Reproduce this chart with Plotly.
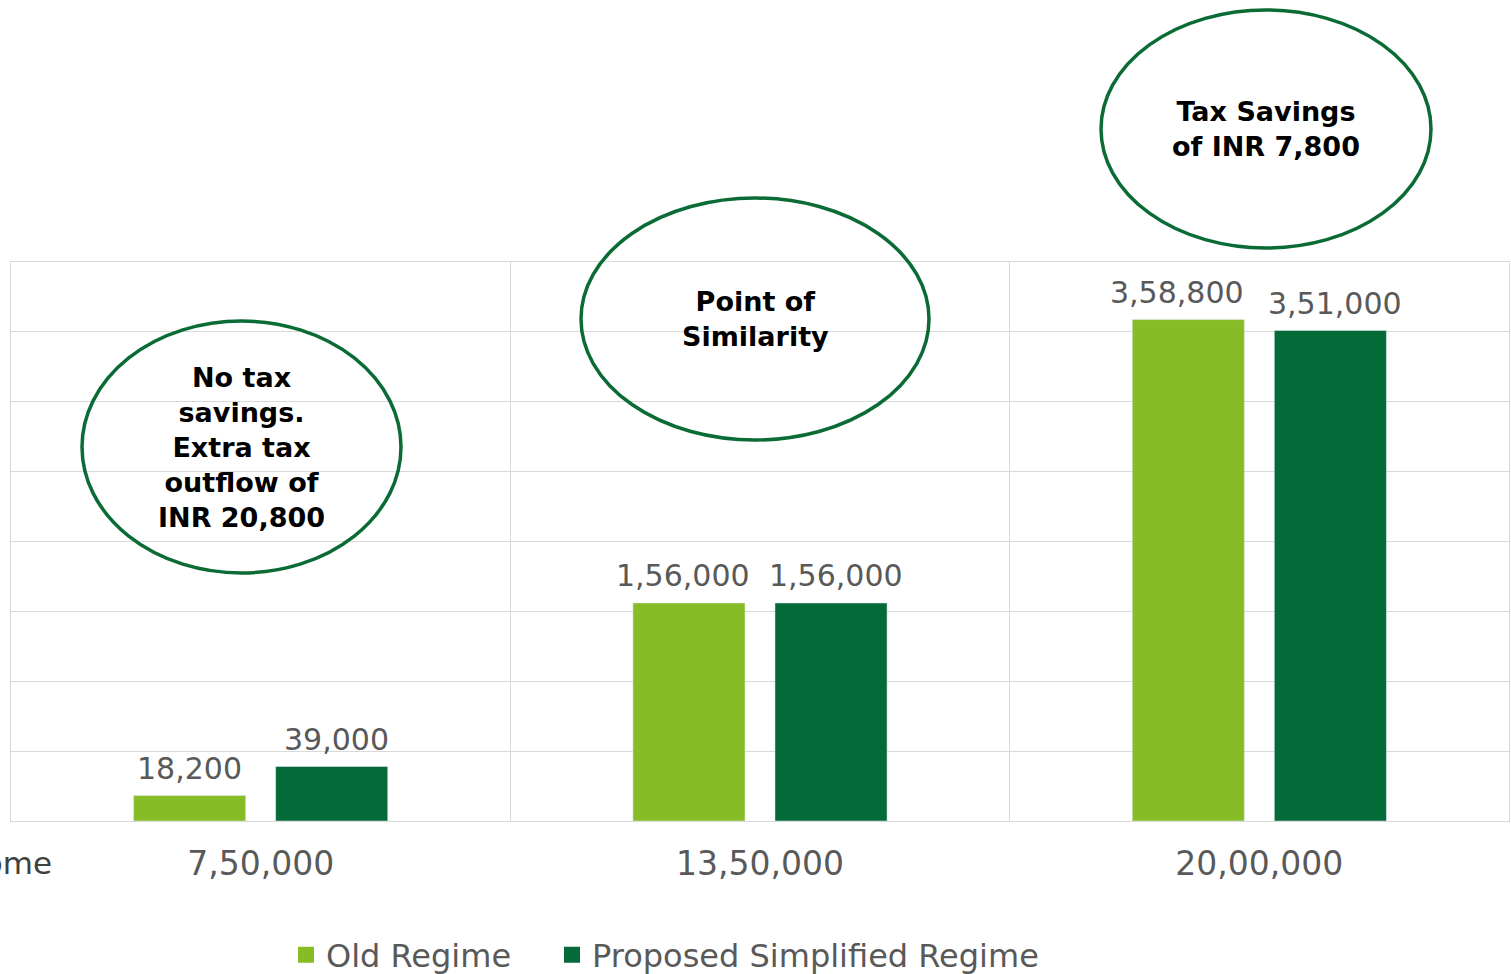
import plotly.graph_objects as go

categories = ["7,50,000", "13,50,000", "20,00,000"]
old_regime = [18200, 156000, 358800]
new_regime = [39000, 156000, 351000]
old_labels = ["18,200", "1,56,000", "3,58,800"]
new_labels = ["39,000", "1,56,000", "3,51,000"]
series_names = ["Old Regime", "Proposed Simplified Regime"]
callouts = [
    "No tax<br>savings.<br>Extra tax<br>outflow of<br>INR 20,800",
    "Point of<br>Similarity",
    "Tax Savings<br>of INR 7,800",
]

W, H = 1511, 974
L, R, T, B = 11, 1509, 262, 821
PW, PH = R - L, B - T


def px(x):
    return (x - L) / PW


def py(y):
    return (B - y) / PH


LIGHT = "#86BC25"
DARK = "#046A38"
FONT = "DejaVu Sans"
SLOT = 71  # half the group width in px (bar centre offset)

fig = go.Figure()
series = [(old_regime, old_labels, series_names[0], LIGHT, "legend", -SLOT, [0, -6, -11]),
          (new_regime, new_labels, series_names[1], DARK, "legend2", SLOT, [5, 5, 5])]
for vals, labs, name, col, leg, off, jit in series:
    fig.add_trace(go.Bar(x=categories, y=vals, name=name, marker_color=col,
                         showlegend=False))
    # legend entry with a larger square swatch
    fig.add_trace(go.Scatter(x=[None], y=[None], mode="markers", name=name,
                             marker=dict(symbol="square", size=17, color=col),
                             showlegend=True, legend=leg))
    for c, v, t, j in zip(categories, vals, labs, jit):
        fig.add_annotation(x=c, y=v, xref="x", yref="y", text=t, showarrow=False,
                           xanchor="center", yanchor="middle", xshift=off + j, yshift=27,
                           font=dict(size=30, color="#595959", family=FONT))

# ellipses (pixel boxes)
ellipses = [(82, 321, 401, 573), (581, 198, 929, 440), (1101, 10, 1431, 248)]
for (x0, y0, x1, y1), txt in zip(ellipses, callouts):
    fig.add_shape(type="circle", xref="paper", yref="paper",
                  x0=px(x0), x1=px(x1), y0=py(y1), y1=py(y0),
                  line=dict(color="#0B6B35", width=3.5), fillcolor="rgba(0,0,0,0)")
    fig.add_annotation(xref="paper", yref="paper", x=px((x0 + x1) / 2), y=py((y0 + y1) / 2),
                       xanchor="center", yanchor="middle",
                       text="<b>" + txt + "</b>", showarrow=False,
                       font=dict(size=27, color="#000000", family=FONT), align="center")

fig.add_annotation(xref="paper", yref="paper", x=px(54), y=py(863), xanchor="right",
                   yanchor="middle", text="Income", showarrow=False,
                   font=dict(size=31, color="#404040", family=FONT))

legend_style = dict(orientation="h", xanchor="left", yanchor="middle", y=py(955),
                    font=dict(size=32, color="#595959", family=FONT), itemwidth=30,
                    bgcolor="rgba(0,0,0,0)")

fig.update_layout(
    width=W, height=H,
    margin=dict(l=L, r=W - R, t=T, b=H - B, autoexpand=False),
    paper_bgcolor="white", plot_bgcolor="white",
    barmode="group", bargap=0.431, bargroupgap=0.211,
    font=dict(family=FONT, color="#595959"),
    showlegend=True,
    legend=dict(x=px(286), **legend_style),
    legend2=dict(x=px(552), **legend_style),
    xaxis=dict(showgrid=True, gridcolor="#d9d9d9", gridwidth=1, tickson="boundaries",
               ticks="", showline=True, linecolor="#d9d9d9", linewidth=1, mirror=True,
               automargin=False,
               tickfont=dict(size=33, color="#595959", family=FONT), ticklabelstandoff=13),
    yaxis=dict(range=[0, 400000], dtick=50000, showgrid=True, gridcolor="#d9d9d9",
               showticklabels=False, zeroline=False, showline=True, linecolor="#d9d9d9",
               mirror=True, automargin=False),
)

fig.write_html("out.html")
